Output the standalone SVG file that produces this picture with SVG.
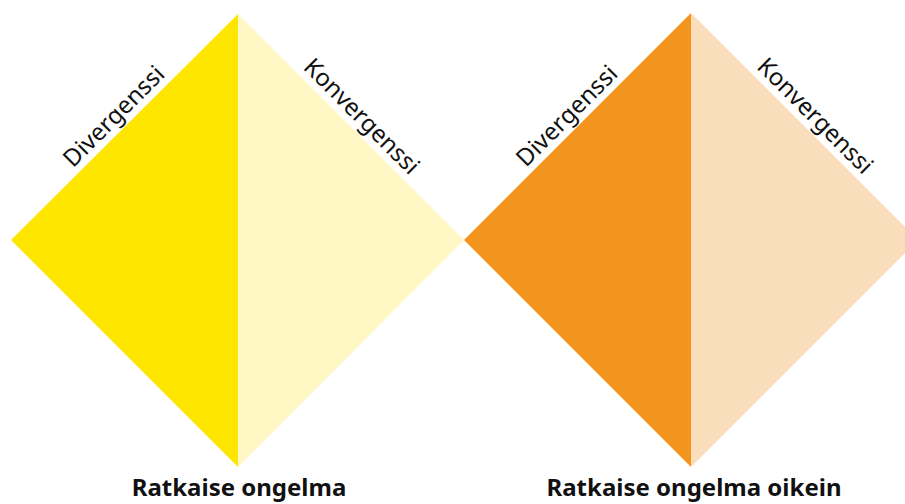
<svg xmlns="http://www.w3.org/2000/svg" width="905" height="504" viewBox="0 0 905 504">
<style>
.lbl{font-family:"Noto Sans","Liberation Sans",sans-serif;font-size:24px;fill:#111;text-anchor:middle}
.ttl{font-family:"Noto Sans","Liberation Sans",sans-serif;font-size:24px;font-weight:bold;fill:#111;text-anchor:middle}
</style>
<rect width="905" height="504" fill="#fff"/>
<g id="diamond-left">
<polygon points="238,14 238,467 11,240" fill="#FFE600"/>
<polygon points="238,14 464,240 238,467" fill="#FFF7C4"/>
<text class="lbl" transform="translate(124.5,127) rotate(-45)" y="-7">Divergenssi</text>
<text class="lbl" transform="translate(351,127) rotate(45)" y="-7">Konvergenssi</text>
<text class="ttl" x="239" y="496">Ratkaise ongelma</text>
</g>
<g id="diamond-right">
<polygon points="691,13 691,467 464,240" fill="#F3941E"/>
<polygon points="691,13 918,240 691,467" fill="#FADDBA"/>
<text class="lbl" transform="translate(577.5,126.5) rotate(-45)" y="-7">Divergenssi</text>
<text class="lbl" transform="translate(804.5,126.5) rotate(45)" y="-7">Konvergenssi</text>
<text class="ttl" x="694" y="496">Ratkaise ongelma oikein</text>
</g>
<g id="connectors"></g>
</svg>
